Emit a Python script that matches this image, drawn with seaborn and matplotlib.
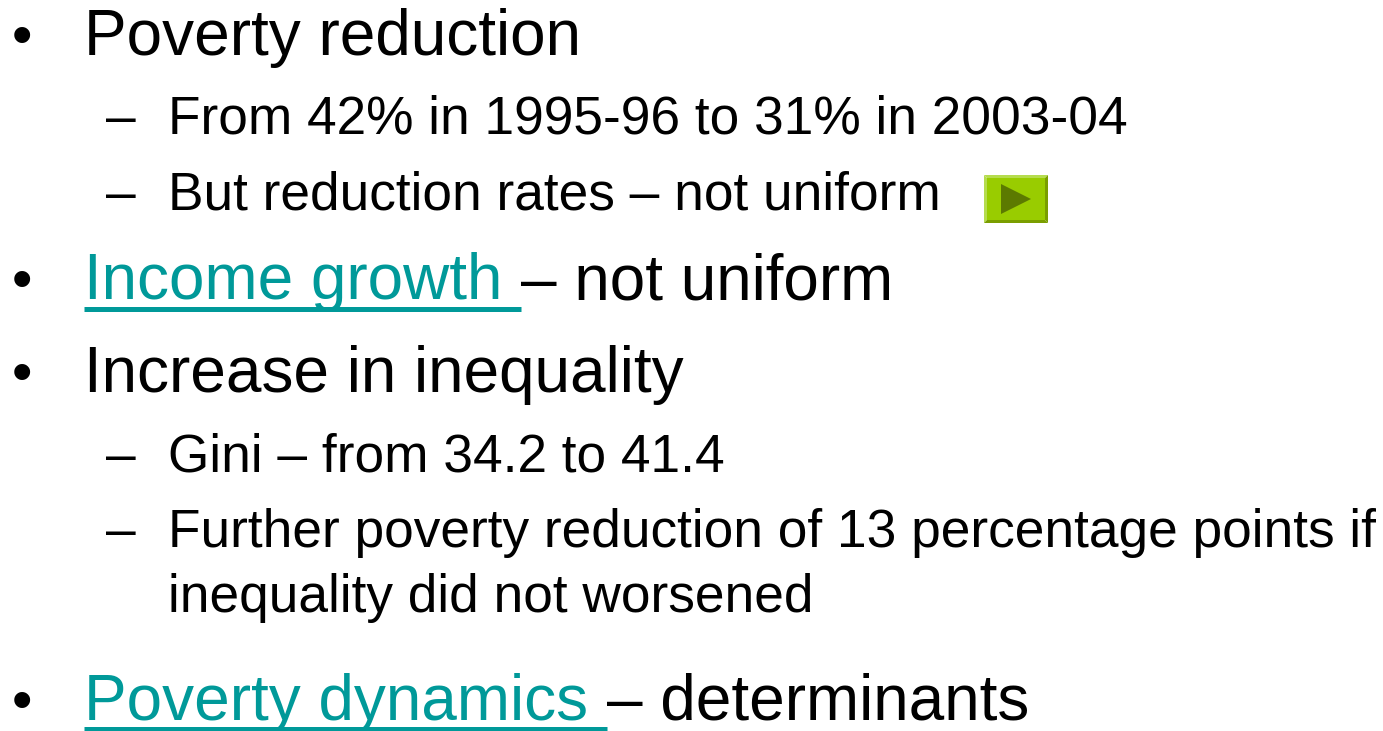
import matplotlib
matplotlib.use("Agg")
import matplotlib.pyplot as plt
from matplotlib.patches import Polygon, Rectangle
import pandas as pd
import seaborn as sns

WIDTH = 1383
HEIGHT = 731
BIG = 46.0
SMALL = 38.3
BULLET = 42
BULLET_X = 12
BULLET_SHIFT = 1
TEAL = "#009999"

# slide text
big_lines = ["Poverty reduction", "Increase in inequality"]
sub_lines = [
    "From 42% in 1995-96 to 31% in 2003-04",
    "But reduction rates – not uniform",
    "Gini – from 34.2 to 41.4",
    "Further poverty reduction of 13 percentage points if",
]
sub_continued = "inequality did not worsened"
link_lines = ["Income growth ", "Poverty dynamics "]
link_tails = ["– not uniform", "– determinants"]

big_y = [55, 392]
sub_y = [134, 210, 472, 547]
continued_y = 612
link_y = [299, 720]
link_end_x = [521, 607]
underline_y = [308.5, 729]

sns.set_theme(style="white")
plt.rcParams["font.family"] = ["Liberation Sans", "DejaVu Sans"]

fig = plt.figure(figsize=(WIDTH / 100, HEIGHT / 100), dpi=100)
ax = fig.add_axes([0, 0, 1, 1])


def put(x, y, s, size, color="black"):
    ax.text(x, y, s, fontsize=size, color=color, ha="left", va="baseline")


for s, tail, y, end, uy in zip(link_lines, link_tails, link_y, link_end_x, underline_y):
    put(BULLET_X, y - BULLET_SHIFT, "•", BULLET)
    put(84, y, s, BIG, TEAL)
    put(end, y, tail, BIG)
    line = pd.DataFrame({"x": [84, end], "y": [uy, uy]})
    sns.lineplot(data=line, x="x", y="y", ax=ax, color=TEAL, linewidth=3.6,
                 solid_capstyle="butt", legend=False)

for s, y in zip(big_lines, big_y):
    put(BULLET_X, y - BULLET_SHIFT, "•", BULLET)
    put(84, y, s, BIG)

for s, y in zip(sub_lines, sub_y):
    put(106, y, "–", SMALL)
    put(168, y, s, SMALL)
put(168, continued_y, sub_continued, SMALL)

ax.set_xlim(0, WIDTH)
ax.set_ylim(HEIGHT, 0)
ax.axis("off")

# action button
ax.add_patch(Polygon([(984, 175), (1048, 175), (1045, 178), (987, 178)], color="#B5DC4E", lw=0))
ax.add_patch(Polygon([(984, 175), (987, 178), (987, 220), (984, 223)], color="#B5DC4E", lw=0))
ax.add_patch(Polygon([(1048, 175), (1048, 223), (1045, 220), (1045, 178)], color="#7A9E00", lw=0))
ax.add_patch(Polygon([(984, 223), (987, 220), (1045, 220), (1048, 223)], color="#7A9E00", lw=0))
ax.add_patch(Rectangle((987, 178), 58, 42, color="#99CC00", lw=0))
ax.add_patch(Polygon([(1001, 184), (1031, 199), (1001, 214)], color="#5C7A00", lw=0))

fig.savefig("out.png", dpi=100, facecolor="white")
